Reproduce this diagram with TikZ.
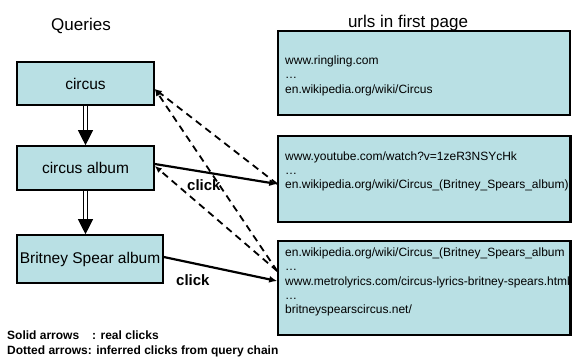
\documentclass[tikz,border=0pt]{standalone}
\usepackage{fontspec}
\setmainfont{Liberation Sans}
\usetikzlibrary{arrows.meta,calc}
\definecolor{boxfill}{RGB}{185,224,228}
\begin{document}
\begin{tikzpicture}[x=1bp,y=-1bp,
  qbox/.style={draw=black, line width=1.6bp, fill=boxfill, inner sep=0pt, font=\fontsize{15.5bp}{18bp}\selectfont},
  ubox/.style={draw=black, line width=1.6bp, fill=boxfill, inner sep=0pt},
  utext/.style={anchor=base west, inner sep=0pt, font=\fontsize{12bp}{14bp}\selectfont},
  heading/.style={anchor=base, inner sep=0pt, font=\fontsize{17bp}{20bp}\selectfont},
  clicklabel/.style={anchor=base west, inner sep=0pt, font=\fontsize{15bp}{18bp}\selectfont\bfseries},
  legend/.style={anchor=base west, inner sep=0pt, font=\fontsize{12bp}{14bp}\selectfont\bfseries},
  dblshaft/.style={draw=black, double=white, double distance=2.6bp, line width=0.9bp},
  bigtip/.style={line width=0.8bp, -{Triangle[length=15bp,width=15bp]}},
  realclick/.style={line width=2.2bp, -{Latex[length=8bp,width=7bp]}},
  inferred/.style={line width=1.8bp, dash pattern=on 7bp off 5bp, -{Latex[length=7bp,width=6bp]}}
]
\useasboundingbox (0,0) rectangle (573,358);

% headings
\node[heading] (hq) at (81,30) {Queries};
\node[heading] (hu) at (408,27) {urls in first page};

% query boxes
\node[qbox, minimum width=137bp, minimum height=43bp] (q1) at (85.5,83.5) {circus};
\node[qbox, minimum width=137bp, minimum height=44bp] (q2) at (85.5,168) {circus album};
\node[qbox, minimum width=146bp, minimum height=48bp] (q3) at (90,259) {Britney Spear album};

% url boxes
\node[ubox, minimum width=292bp, minimum height=84bp] (u1) at (424,73) {};
\node[ubox, minimum width=292bp, minimum height=86bp] (u2) at (424,179) {};
\node[ubox, minimum width=292bp, minimum height=94bp] (u3) at (424,288) {};

\node[utext] (t11) at (285,64) {www.ringling.com};
\node[utext] (t12) at (285,78) {…};
\node[utext] (t13) at (285,93) {en.wikipedia.org/wiki/Circus};

\node[utext] (t21) at (285,160) {www.youtube.com/watch?v=1zeR3NSYcHk};
\node[utext] (t22) at (285,174) {…};
\node[utext] (t23) at (285,188) {en.wikipedia.org/wiki/Circus\_(Britney\_Spears\_album)};

\node[utext] (t31) at (285,256) {en.wikipedia.org/wiki/Circus\_(Britney\_Spears\_album};
\node[utext] (t32) at (285,270) {…};
\node[utext] (t33) at (285,285) {www.metrolyrics.com/circus-lyrics-britney-spears.html};
\node[utext] (t34) at (285,299) {…};
\node[utext] (t35) at (285,313) {britneyspearscircus.net/};

% redraw right borders over overflowing text
\draw[line width=1.6bp] (u2.north east) -- (u2.south east);
\draw[line width=1.6bp] (u3.north east) -- (u3.south east);

% query chain arrows
\draw[dblshaft] (q1.south) -- ([yshift=14bp]q2.north);
\draw[bigtip] ([yshift=15bp]q2.north) -- (q2.north);
\draw[dblshaft] (q2.south) -- ([yshift=14bp]q2.south |- q3.north);
\draw[bigtip] ([yshift=15bp]q2.south |- q3.north) -- (q2.south |- q3.north);

% inferred clicks
\draw[inferred] ([yshift=-5bp]u2.west) -- ([yshift=-5.5bp]q1.east);
\draw[inferred] ([yshift=17bp]u3.west) -- ([yshift=-5.5bp]q1.east);
\draw[inferred] ([yshift=17bp]u3.west) -- ([yshift=2bp]q2.east);

% real clicks
\draw[realclick] ([yshift=4bp]q2.east) -- ([yshift=-5bp]u2.west);
\draw[realclick] ([yshift=2bp]q3.east) -- ([yshift=7bp]u3.west);

\node[clicklabel] (c1) at (187,190) {click};
\node[clicklabel] (c2) at (176,285) {click};

% legend
\node[legend] (l1) at (7,339) {Solid arrows\hspace{13bp}: real clicks};
\node[legend] (l2) at (7,354) {Dotted arrows: inferred clicks from query chain};
\end{tikzpicture}
\end{document}
